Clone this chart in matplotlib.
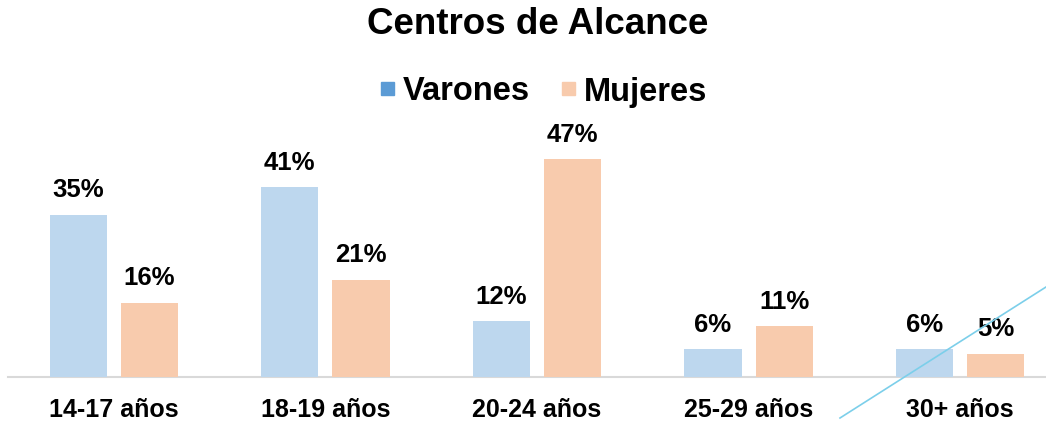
import numpy as np
import matplotlib.pyplot as plt
from matplotlib.patches import Patch
from matplotlib.lines import Line2D

categorias = ['14-17 años', '18-19 años', '20-24 años', '25-29 años', '30+ años']
varones = [35, 41, 12, 6, 6]
mujeres = [16, 21, 47, 11, 5]

plt.rcParams['font.family'] = ['Liberation Sans', 'DejaVu Sans']

W, H = 1046, 421
fig = plt.figure(figsize=(W / 100, H / 100), dpi=100)

# eje: base en y=377 px, grupos de ~211.5 px
ax = fig.add_axes([8 / W, (H - 377) / H, 1058 / W, (377 - 120) / H])
x = np.arange(len(categorias))
ancho = 0.27
b1 = ax.bar(x - 0.168, varones, ancho, color='#BDD7EE', zorder=3)
b2 = ax.bar(x + 0.168, mujeres, ancho, color='#F8CBAD', zorder=3)

ax.set_xlim(-0.5, len(categorias) - 0.5)
ax.set_ylim(0, 257 / 4.63)

for barras, vals in ((b1, varones), (b2, mujeres)):
    for b, v in zip(barras, vals):
        ax.annotate(f'{v}%', (b.get_x() + b.get_width() / 2, v),
                    xytext=(0, 9), textcoords='offset points',
                    ha='center', va='bottom', fontsize=18.5, fontweight='bold')

for s in ['top', 'right', 'left']:
    ax.spines[s].set_visible(False)
ax.spines['bottom'].set_color('#D9D9D9')
ax.spines['bottom'].set_linewidth(1.5)
ax.set_yticks([])
ax.set_xticks(x)
ax.set_xticklabels(categorias, fontsize=18, fontweight='bold')
ax.tick_params(axis='x', length=0, pad=15)

fig.text(538 / W, 1 - 25 / H, 'Centros de Alcance', ha='center', va='center',
         fontsize=26.5, fontweight='bold')

handles = [Patch(color='#5B9BD5'), Patch(color='#F8CBAD')]
fig.legend(handles, ['Varones', 'Mujeres'], loc='center', ncol=2,
           bbox_to_anchor=(544 / W, 1 - 92 / H), frameon=False,
           prop={'size': 23.5, 'weight': 'bold'},
           handlelength=0.4, handleheight=0.24, handletextpad=0.25,
           columnspacing=1.0)

# línea diagonal celeste de la esquina inferior derecha
fig.add_artist(Line2D([840 / W, 1046 / W], [1 - 418 / H, 1 - 287 / H],
                      color='#7CCFEA', linewidth=1.2, zorder=1))
b1[-1].set_zorder(5)

fig.savefig('out.png', dpi=100, facecolor='white')
